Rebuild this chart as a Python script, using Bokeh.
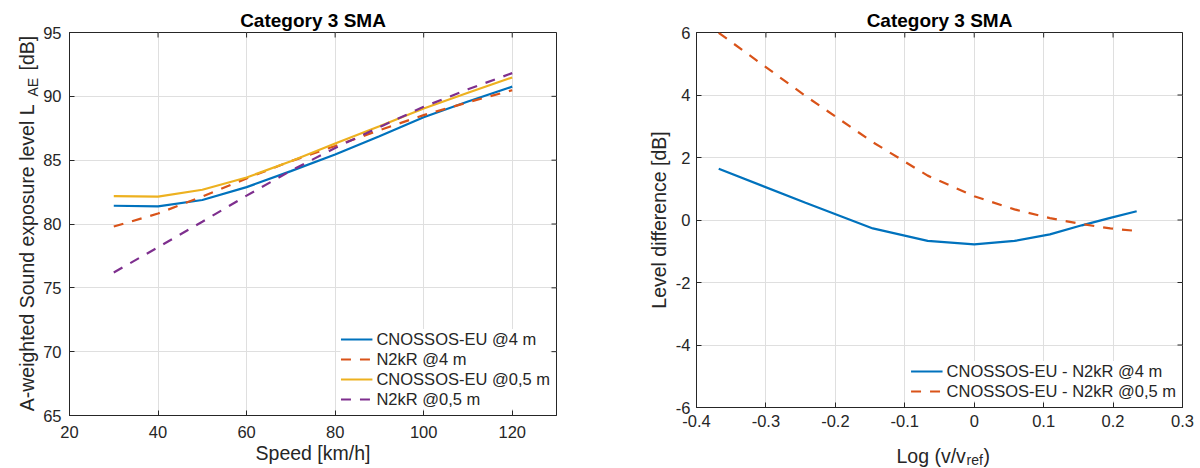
import math
from bokeh.plotting import figure
from bokeh.models import FixedTicker, Legend, LegendItem, Range1d
from bokeh.layouts import row, column
from bokeh.embed import file_html
from bokeh.resources import INLINE
from bokeh.core.properties import value

# ---------------- data ----------------
speed = [30, 40, 50, 60, 70, 80, 90, 100, 110, 120]
cnossos_4m = [81.43, 81.38, 81.88, 82.89, 84.14, 85.44, 86.88, 88.36, 89.60, 90.76]
n2kr_4m = [79.80, 80.82, 82.15, 83.57, 84.92, 86.11, 87.34, 88.53, 89.53, 90.48]
cnossos_05m = [82.19, 82.14, 82.68, 83.64, 84.92, 86.30, 87.65, 89.05, 90.28, 91.48]
n2kr_05m = [76.20, 78.18, 80.18, 82.22, 84.17, 85.96, 87.58, 89.18, 90.55, 91.82]

log_ratio = [-0.368, -0.243, -0.146, -0.067, 0.0, 0.058, 0.109, 0.155, 0.196, 0.234]
diff_4m = [1.64, 0.55, -0.27, -0.67, -0.78, -0.67, -0.46, -0.17, 0.07, 0.28]
diff_05m = [5.99, 3.97, 2.49, 1.42, 0.76, 0.34, 0.06, -0.13, -0.27, -0.35]

left_xticks = [20, 40, 60, 80, 100, 120]
left_yticks = [65, 70, 75, 80, 85, 90, 95]
right_xticks = [-0.4, -0.3, -0.2, -0.1, 0.0, 0.1, 0.2, 0.3]
right_xlabels = ["-0.4", "-0.3", "-0.2", "-0.1", "0", "0.1", "0.2", "0.3"]
right_yticks = [-6, -4, -2, 0, 2, 4, 6]
right_ylabels = ["-6", "-4", "-2", "0", "2", "4", "6"]

left_legend = ["CNOSSOS-EU @4 m", "N2kR @4 m", "CNOSSOS-EU @0,5 m", "N2kR @0,5 m"]
right_legend = ["CNOSSOS-EU - N2kR @4 m", "CNOSSOS-EU - N2kR @0,5 m"]
title_text = "Category 3 SMA"
left_xlabel = "Speed [km/h]"
left_ylabel_parts = ["A-weighted Sound exposure level L", "AE", "[dB]"]
right_ylabel = "Level difference [dB]"
right_xlabel_parts = ["Log (v/v", "ref", ")"]

# ---------------- style ----------------
FONT = "Liberation Sans"
AX = "#262626"
GRID = "#dfdfdf"
BLUE, ORANGE, YELLOW, PURPLE = "#0072BD", "#D95319", "#EDB120", "#7E2F8E"
DASH = "10 9"
LW = 2.2
TICK_FS = "16.5px"
LABEL_FS = "19.5px"
SUB_FS = "14px"


def make_fig(width, height, xr, yr, xticks, yticks, mb_left, mb_right, mb_bottom):
    p = figure(width=width, height=height, x_range=Range1d(*xr), y_range=Range1d(*yr),
               output_backend="svg", toolbar_location=None,
               min_border_left=mb_left, min_border_right=mb_right,
               min_border_top=32, min_border_bottom=mb_bottom)
    p.title.text = title_text
    p.title.text_font = FONT
    p.title.text_font_size = "19px"
    p.title.text_font_style = "bold"
    p.title.text_color = "#000000"
    p.title.align = "center"
    p.title.standoff = 3
    p.outline_line_color = AX
    p.outline_line_width = 1
    p.outline_line_alpha = 1
    p.background_fill_color = "white"
    p.border_fill_color = "white"

    for ax, ticks in ((p.below[0], xticks), (p.left[0], yticks)):
        ax.ticker = FixedTicker(ticks=ticks)
        ax.major_tick_in = 5
        ax.major_tick_out = 0
        ax.minor_tick_in = 0
        ax.minor_tick_out = 0
        ax.axis_line_color = AX
        ax.major_tick_line_color = AX
        ax.major_label_text_font = FONT
        ax.major_label_text_font_size = TICK_FS
        ax.major_label_text_color = AX
        ax.axis_label_text_font = FONT
        ax.axis_label_text_font_size = LABEL_FS
        ax.axis_label_text_font_style = "normal"
        ax.axis_label_text_color = AX
    p.xgrid.ticker = FixedTicker(ticks=xticks)
    p.ygrid.ticker = FixedTicker(ticks=yticks)
    for g in (p.xgrid[0], p.ygrid[0]):
        g.grid_line_color = GRID
        g.grid_line_width = 1

    # mirrored inward ticks on the top and right edges (box on); the outer half is clipped
    p.scatter(x=xticks, y=[yr[1]] * len(xticks), marker="dash", size=10, angle=math.pi / 2,
              line_color=AX, line_width=1)
    p.scatter(x=[xr[1]] * len(yticks), y=yticks, marker="dash", size=10, angle=0,
              line_color=AX, line_width=1)
    return p


def make_legend(items):
    return Legend(items=items, location="bottom_right",
                  label_text_font=FONT, label_text_font_size=TICK_FS, label_text_color=AX,
                  glyph_width=32, glyph_height=20, label_height=20, spacing=0,
                  padding=5, margin=6, label_standoff=4,
                  background_fill_color="white", background_fill_alpha=1,
                  border_line_color=None)


def text_fig(width, height, xr, yr):
    f = figure(width=width, height=height, x_range=Range1d(*xr), y_range=Range1d(*yr),
               output_backend="svg", toolbar_location=None, min_border=0,
               x_axis_type=None, y_axis_type=None)
    f.outline_line_color = None
    f.background_fill_color = "white"
    f.border_fill_color = "white"
    return f


# ---------------- left y-label (with subscript); its frame is aligned with p1's frame ----------------
ylab = text_fig(40, 468, (0, 40), (415, 32))
ylab.text(x=[26.7], y=[104], text=[left_ylabel_parts[0]], angle=math.pi / 2,
          text_align="right", text_baseline="alphabetic", text_font=value(FONT),
          text_font_size=value(LABEL_FS), text_color=AX)
ylab.text(x=[32.3], y=[96], text=[left_ylabel_parts[1]], angle=math.pi / 2,
          text_align="left", text_baseline="alphabetic", text_font=value(FONT),
          text_font_size=value(SUB_FS), text_color=AX)
ylab.text(x=[26.7], y=[70], text=[left_ylabel_parts[2]], angle=math.pi / 2,
          text_align="left", text_baseline="alphabetic", text_font=value(FONT),
          text_font_size=value(LABEL_FS), text_color=AX)

# ---------------- left plot ----------------
p1 = make_fig(560, 468, (20, 130), (65, 95), left_xticks, left_yticks, 26, 44, 53)
p1.below[0].axis_label = left_xlabel
p1.below[0].major_label_standoff = 10
p1.below[0].axis_label_standoff = 1
p1.left[0].major_label_standoff = 8

r1 = p1.line(speed, cnossos_4m, line_color=BLUE, line_width=LW)
r2 = p1.line(speed, n2kr_4m, line_color=ORANGE, line_width=LW, line_dash=DASH)
r3 = p1.line(speed, cnossos_05m, line_color=YELLOW, line_width=LW)
r4 = p1.line(speed, n2kr_05m, line_color=PURPLE, line_width=LW, line_dash=DASH)
p1.add_layout(make_legend([LegendItem(label=t, renderers=[r]) for t, r in
                           zip(left_legend, [r1, r2, r3, r4])]))

# ---------------- right plot ----------------
p2 = make_fig(600, 434, (-0.4, 0.3), (-6, 6), right_xticks, right_yticks, 96, 18, 27)
p2.below[0].major_label_overrides = dict(zip(right_xticks, right_xlabels))
p2.left[0].major_label_overrides = dict(zip(right_yticks, right_ylabels))
p2.below[0].major_label_standoff = 7
p2.left[0].major_label_standoff = 6
p2.left[0].axis_label = right_ylabel
p2.left[0].axis_label_standoff = 3

q1 = p2.line(log_ratio, diff_4m, line_color=BLUE, line_width=LW)
q2 = p2.line(log_ratio, diff_05m, line_color=ORANGE, line_width=LW, line_dash=DASH)
p2.add_layout(make_legend([LegendItem(label=t, renderers=[r]) for t, r in
                           zip(right_legend, [q1, q2])]))

# ---------------- right x-label (with subscript); its frame is aligned with p2's frame ----------------
xlab = text_fig(600, 34, (696, 1182), (468, 434))
xlab.text(x=[896], y=[455.5], text=[right_xlabel_parts[0]], text_align="left",
          text_baseline="alphabetic", text_font=value(FONT),
          text_font_size=value(LABEL_FS), text_color=AX)
xlab.text(x=[966], y=[459.5], text=[right_xlabel_parts[1]], text_align="left",
          text_baseline="alphabetic", text_font=value(FONT),
          text_font_size=value(SUB_FS), text_color=AX)
xlab.text(x=[983], y=[455.5], text=[right_xlabel_parts[2]], text_align="left",
          text_baseline="alphabetic", text_font=value(FONT),
          text_font_size=value(LABEL_FS), text_color=AX)

layout = row(ylab, p1, column(p2, xlab))
open("out.html", "w").write(file_html(layout, INLINE))
